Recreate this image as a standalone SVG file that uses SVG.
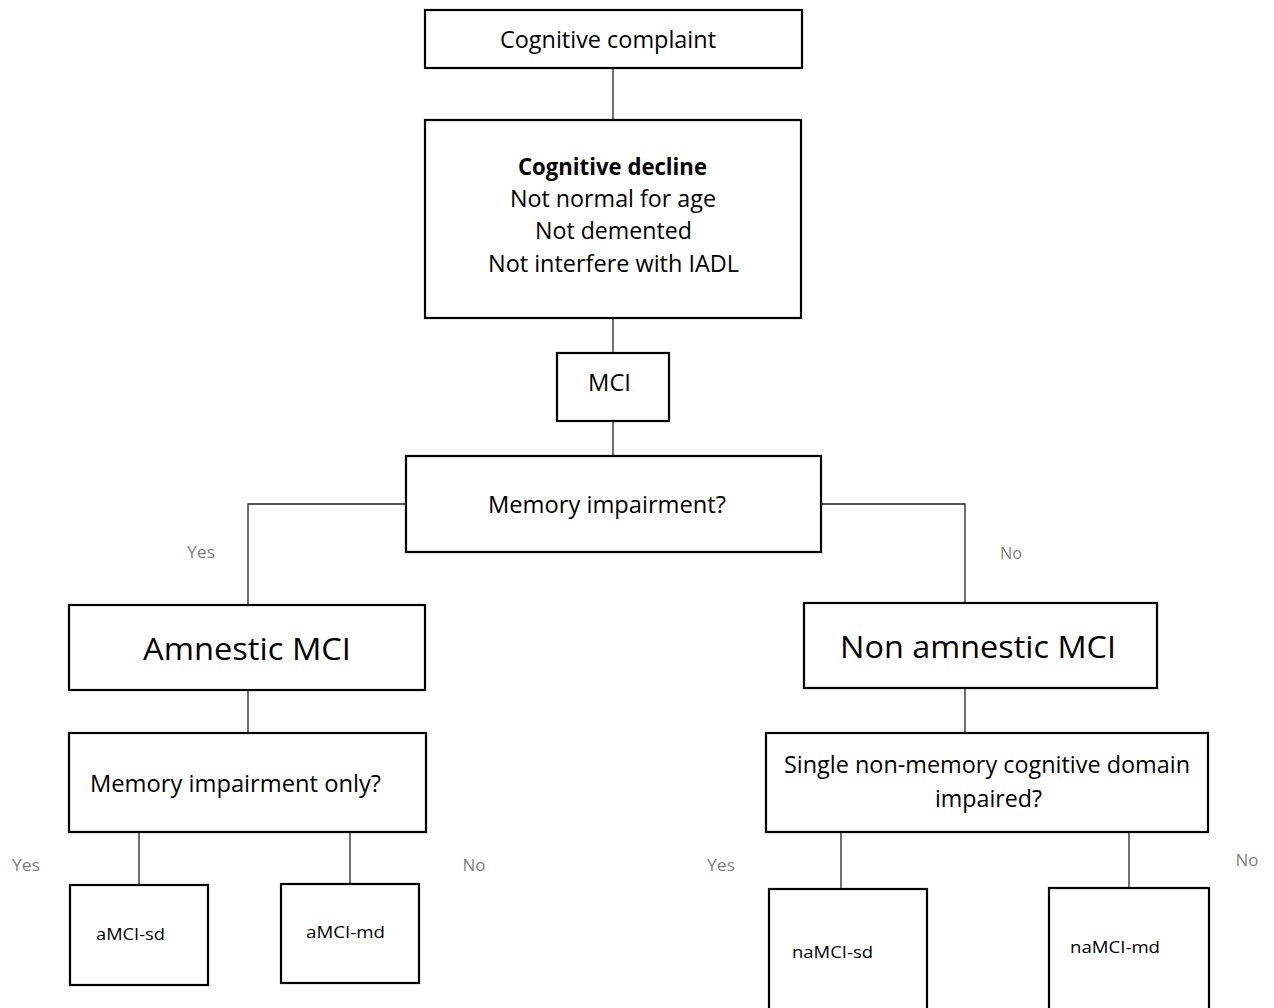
<svg xmlns="http://www.w3.org/2000/svg" width="1274" height="1008" viewBox="0 0 1274 1008">
<style>
.box{fill:#fff;stroke:#000;stroke-width:2.2}
.t{font-family:"Open Sans","Noto Sans","Liberation Sans",sans-serif;fill:#000;text-anchor:middle}
.m{font-size:23px}
.b{font-weight:bold}
.l{font-size:31px}
.s{font-size:17px}
.g{font-family:"Open Sans","Noto Sans","Liberation Sans",sans-serif;font-size:16px;fill:#7f7f7f;text-anchor:middle}
.c{fill:none;stroke:#222;stroke-width:1.3}
</style>
<rect width="1274" height="1008" fill="#fff"/>
<g id="connectors">
<line class="c" x1="613" y1="68" x2="613" y2="120"/>
<line class="c" x1="613" y1="318" x2="613" y2="353"/>
<line class="c" x1="613" y1="421" x2="613" y2="456"/>
<polyline class="c" points="406,504 248,504 248,605"/>
<polyline class="c" points="821,504 965,504 965,603"/>
<line class="c" x1="248" y1="690" x2="248" y2="733"/>
<line class="c" x1="139" y1="832" x2="139" y2="885"/>
<line class="c" x1="350" y1="832" x2="350" y2="884"/>
<line class="c" x1="965" y1="688" x2="965" y2="733"/>
<line class="c" x1="841" y1="832" x2="841" y2="889"/>
<line class="c" x1="1129" y1="832" x2="1129" y2="888"/>
<text class="g" x="201" y="558" textLength="28" lengthAdjust="spacingAndGlyphs">Yes</text>
<text class="g" x="1011" y="559" textLength="22" lengthAdjust="spacingAndGlyphs">No</text>
<text class="g" x="26" y="871" textLength="28" lengthAdjust="spacingAndGlyphs">Yes</text>
<text class="g" x="474" y="871" textLength="23" lengthAdjust="spacingAndGlyphs">No</text>
<text class="g" x="721" y="871" textLength="28" lengthAdjust="spacingAndGlyphs">Yes</text>
<text class="g" x="1247" y="866" textLength="23" lengthAdjust="spacingAndGlyphs">No</text>
</g>
<g id="n_complaint">
<rect class="box" x="425" y="10" width="377" height="58"/>
<text class="t m" x="608" y="48" textLength="216" lengthAdjust="spacingAndGlyphs">Cognitive complaint</text>
</g>
<g id="n_decline">
<rect class="box" x="425" y="120" width="376" height="198"/>
<text class="t m b" x="612.5" y="175" textLength="189" lengthAdjust="spacingAndGlyphs">Cognitive decline</text>
<text class="t m" x="613" y="207" textLength="206" lengthAdjust="spacingAndGlyphs">Not normal for age</text>
<text class="t m" x="613.5" y="239" textLength="157" lengthAdjust="spacingAndGlyphs">Not demented</text>
<text class="t m" x="613.5" y="272" textLength="251" lengthAdjust="spacingAndGlyphs">Not interfere with IADL</text>
</g>
<g id="n_mci">
<rect class="box" x="557" y="353" width="112" height="68"/>
<text class="t m" x="609.5" y="391" textLength="43" lengthAdjust="spacingAndGlyphs">MCI</text>
</g>
<g id="n_memq">
<rect class="box" x="406" y="456" width="415" height="96"/>
<text class="t m" x="607" y="513" textLength="238" lengthAdjust="spacingAndGlyphs">Memory impairment?</text>
</g>
<g id="n_amnestic">
<rect class="box" x="69" y="605" width="356" height="85"/>
<text class="t l" x="247" y="660" textLength="208" lengthAdjust="spacingAndGlyphs">Amnestic MCI</text>
</g>
<g id="n_memonly">
<rect class="box" x="69" y="733" width="357" height="99"/>
<text class="t m" x="235.5" y="792" textLength="291" lengthAdjust="spacingAndGlyphs">Memory impairment only?</text>
</g>
<g id="n_amci_sd">
<rect class="box" x="70" y="885" width="138" height="100"/>
<text class="t s" x="130.5" y="940" textLength="69" lengthAdjust="spacingAndGlyphs">aMCI-sd</text>
</g>
<g id="n_amci_md">
<rect class="box" x="281" y="884" width="138" height="99"/>
<text class="t s" x="345.5" y="938" textLength="79" lengthAdjust="spacingAndGlyphs">aMCI-md</text>
</g>
<g id="n_nonamnestic">
<rect class="box" x="804" y="603" width="353" height="85"/>
<text class="t l" x="978" y="658" textLength="276" lengthAdjust="spacingAndGlyphs">Non amnestic MCI</text>
</g>
<g id="n_single">
<rect class="box" x="766" y="733" width="442" height="99"/>
<text class="t m" x="987" y="773" textLength="406" lengthAdjust="spacingAndGlyphs">Single non-memory cognitive domain</text>
<text class="t m" x="988.5" y="807" textLength="107" lengthAdjust="spacingAndGlyphs">impaired?</text>
</g>
<g id="n_namci_sd">
<rect class="box" x="769" y="889" width="158" height="130"/>
<text class="t s" x="832.5" y="958" textLength="81" lengthAdjust="spacingAndGlyphs">naMCI-sd</text>
</g>
<g id="n_namci_md">
<rect class="box" x="1049" y="888" width="160" height="130"/>
<text class="t s" x="1115" y="953" textLength="90" lengthAdjust="spacingAndGlyphs">naMCI-md</text>
</g>
</svg>
